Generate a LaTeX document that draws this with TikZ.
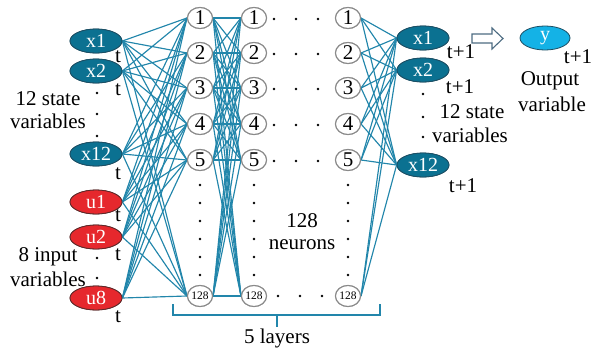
\documentclass[tikz,border=0pt]{standalone}
\usepackage{fontspec}
\setmainfont{Liberation Serif}
\usetikzlibrary{shapes.geometric}
\definecolor{teal1}{HTML}{0B7191}
\definecolor{tealb}{HTML}{1D4E63}
\definecolor{red1}{HTML}{E6282D}
\definecolor{redb}{HTML}{5A2A2A}
\definecolor{cyan1}{HTML}{14B2E6}
\definecolor{edge}{HTML}{2286AB}
\definecolor{ngray}{HTML}{8A8A8A}
\definecolor{arr}{HTML}{4D6C82}
\tikzset{
  var/.style={ellipse, draw=tealb, line width=0.8pt, fill=teal1, text=white, minimum width=52pt, minimum height=24pt, inner sep=0pt, font=\fontsize{20}{20}\selectfont},
  uvar/.style={var, fill=red1, draw=redb},
  yvar/.style={var, fill=cyan1, draw=tealb, minimum width=50pt},
  neuron/.style={ellipse, draw=ngray, line width=1.1pt, fill=white, minimum width=25pt, minimum height=21pt, inner sep=0pt, font=\fontsize{21}{21}\selectfont},
  small/.style={font=\fontsize{11.5}{11.5}\selectfont},
  lbl/.style={font=\fontsize{21}{21}\selectfont, inner sep=0pt},
  conn/.style={draw=edge, line width=1.15pt},
  dot/.style={circle, fill=black, inner sep=0pt, minimum size=2.8pt}
}
\begin{document}
\begin{tikzpicture}[x=1pt,y=-1pt]
\useasboundingbox (0,0) rectangle (595,351);
% inputs
\node[var] (ix1) at (96,41) {x1};
\node[var] (ix2) at (96,71) {x2};
\node[var] (ix12) at (96,154) {x12};
\node[uvar] (iu1) at (96,202) {u1};
\node[uvar] (iu2) at (96,237) {u2};
\node[uvar] (iu8) at (96,298) {u8};
% layers
\foreach \c/\x in {a/200,b/254,c/348}{
  \foreach \r/\y in {1/18,2/53,3/88,4/124,5/160}{
    \node[neuron] (\c\r) at (\x,\y) {\r};
  }
  \node[neuron,small] (\c6) at (\x,296) {128};
}
% outputs
\node[var] (ox1) at (423,38) {x1};
\node[var] (ox2) at (423,70) {x2};
\node[var] (ox12) at (423,165) {x12};
\node[yvar] (oy) at (545,38) {y};
% connectors
\foreach \i in {ix1,ix2,ix12,iu1,iu2,iu8}{
  \foreach \j in {1,...,6}{
    \draw[conn] (\i.east) -- (a\j.west);
  }
}
\foreach \i in {1,...,6}{
  \foreach \j in {1,...,6}{
    \draw[conn] (a\i.east) -- (b\j.west);
  }
}
\foreach \i in {1,...,6}{
  \foreach \j in {ox1,ox2,ox12}{
    \draw[conn] (c\i.east) -- (\j.west);
  }
}
% redraw nodes on top
\foreach \c/\x in {a/200,b/254,c/348}{
  \foreach \r/\y in {1/18,2/53,3/88,4/124,5/160}{
    \node[neuron] at (\x,\y) {\r};
  }
  \node[neuron,small] at (\x,296) {128};
}
\node[var] at (96,41) {x1};
\node[var] at (96,71) {x2};
\node[var] at (96,154) {x12};
\node[uvar] at (96,202) {u1};
\node[uvar] at (96,237) {u2};
\node[uvar] at (96,298) {u8};
\node[var] at (423,38) {x1};
\node[var] at (423,70) {x2};
\node[var] at (423,165) {x12};
% t labels
\foreach \n/\y in {t1/57,t2/90,t3/174,t4/216,t5/255,t6/317}{
  \node[lbl] (\n) at (118,\y) {t};
}
\node[lbl] (r1) at (461,52) {t+1};
\node[lbl] (r2) at (460,87) {t+1};
\node[lbl] (r3) at (463,186) {t+1};
\node[lbl] (r4) at (578,57) {t+1};
% left labels
\node[lbl] (sv1) at (48,99) {12 state};
\node[lbl] (sv2) at (48,121) {variables};
\node[lbl] (iv1) at (48,257) {8 input};
\node[lbl] (iv2) at (48,279) {variables};
% right labels
\node[lbl] (rs1) at (472,112) {12 state};
\node[lbl] (rs2) at (470,135) {variables};
\node[lbl] (ov1) at (550,81) {Output};
\node[lbl] (ov2) at (552,104) {variable};
\node[lbl] (nn1) at (302,221) {128};
\node[lbl] (nn2) at (302,245) {neurons};
\node[lbl] (ly) at (277,338) {5 layers};
% dots
\foreach \y in {93,114,136}{\node[dot] at (97,\y) {};}
\foreach \y in {258,278}{\node[dot] at (97,\y) {};}
\foreach \y in {94,117,137}{\node[dot] at (423,\y) {};}
\foreach \x in {200,254,348}{
  \foreach \y in {185,203,221,239,257,275}{\node[dot] at (\x,\y) {};}
}
\foreach \y in {18,53,88,124,160}{
  \foreach \x in {274,296,318}{\node[dot] at (\x,\y+1) {};}
}
\foreach \x in {278,300,322}{\node[dot] at (\x,296) {};}
% bracket
\coordinate (bl) at (173,304);
\coordinate (br) at (380,304);
\coordinate (bm) at (277,327);
\draw[edge, line width=1.1pt] (bl) -- (173,315) -- (380,315) -- (br);
\draw[edge, line width=1.1pt] (277,315) -- (bm);
% hollow arrow
\draw[arr, line width=1.1pt, fill=white] (472,34) -- (492,34) -- (492,28) -- (503,38.5) -- (492,49) -- (492,43) -- (472,43) -- cycle;
\end{tikzpicture}
\end{document}
